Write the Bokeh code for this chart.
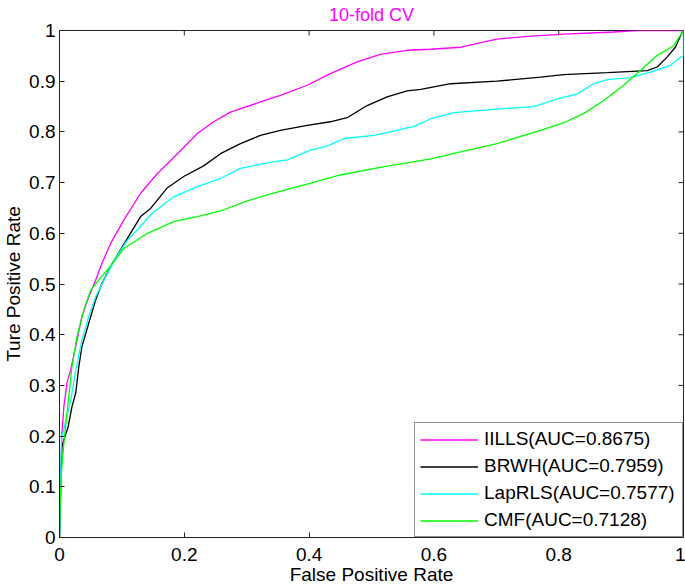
import math
from bokeh.plotting import figure
from bokeh.models import Range1d, FixedTicker, Legend, LegendItem
from bokeh.embed import file_html
from bokeh.resources import INLINE

# ---------------- data ----------------
iills_x = [0, 0.002, 0.004, 0.007, 0.012, 0.018, 0.026, 0.036, 0.047, 0.058, 0.068, 0.082, 0.103,
           0.130, 0.157, 0.189, 0.221, 0.247, 0.274, 0.322, 0.354, 0.397, 0.434, 0.477, 0.514,
           0.557, 0.595, 0.643, 0.701, 0.755, 0.808, 0.888, 0.926, 1.0]
iills_y = [0, 0.12, 0.207, 0.258, 0.305, 0.331, 0.377, 0.436, 0.475, 0.508, 0.541, 0.580, 0.626,
           0.679, 0.718, 0.757, 0.797, 0.820, 0.839, 0.859, 0.872, 0.892, 0.915, 0.938, 0.953,
           0.961, 0.963, 0.967, 0.983, 0.989, 0.993, 0.997, 1.0, 1.0]

brwh_x = [0, 0.002, 0.004, 0.009, 0.014, 0.020, 0.026, 0.031, 0.036, 0.047, 0.058, 0.068, 0.082,
          0.103, 0.130, 0.146, 0.173, 0.199, 0.231, 0.258, 0.290, 0.322, 0.354, 0.397, 0.434,
          0.461, 0.493, 0.525, 0.557, 0.579, 0.627, 0.701, 0.771, 0.808, 0.878, 0.942, 0.958,
          0.974, 0.987, 0.998, 1.0]
brwh_y = [0, 0.10, 0.18, 0.20, 0.219, 0.258, 0.285, 0.337, 0.377, 0.423, 0.469, 0.501, 0.535,
          0.578, 0.633, 0.649, 0.690, 0.712, 0.733, 0.757, 0.777, 0.793, 0.803, 0.813, 0.820,
          0.828, 0.852, 0.869, 0.881, 0.884, 0.895, 0.900, 0.908, 0.913, 0.917, 0.921, 0.928,
          0.948, 0.967, 0.997, 1.0]

laprls_x = [0, 0.002, 0.003, 0.010, 0.018, 0.026, 0.036, 0.047, 0.058, 0.074, 0.090, 0.108,
            0.127, 0.149, 0.183, 0.221, 0.258, 0.290, 0.333, 0.365, 0.402, 0.429, 0.456, 0.504,
            0.541, 0.568, 0.595, 0.632, 0.701, 0.760, 0.798, 0.830, 0.856, 0.878, 0.915, 0.947,
            0.979, 0.996, 1.0, 1.0]
laprls_y = [0, 0.12, 0.193, 0.23, 0.27, 0.33, 0.39, 0.436, 0.475, 0.514, 0.551, 0.585,
            0.610, 0.640, 0.672, 0.692, 0.708, 0.728, 0.739, 0.745, 0.764, 0.772, 0.787, 0.793,
            0.803, 0.811, 0.826, 0.838, 0.845, 0.850, 0.865, 0.875, 0.895, 0.903, 0.907, 0.918,
            0.931, 0.948, 0.95, 1.0]

cmf_x = [0, 0.001, 0.003, 0.007, 0.012, 0.020, 0.028, 0.039, 0.050, 0.063, 0.079, 0.103, 0.141,
         0.183, 0.221, 0.258, 0.301, 0.343, 0.397, 0.450, 0.514, 0.557, 0.595, 0.648, 0.701,
         0.755, 0.808, 0.840, 0.872, 0.904, 0.931, 0.958, 0.984, 1.0]
cmf_y = [0, 0.062, 0.127, 0.186, 0.245, 0.337, 0.396, 0.449, 0.488, 0.508, 0.531, 0.570, 0.600,
         0.623, 0.633, 0.644, 0.664, 0.679, 0.697, 0.715, 0.730, 0.739, 0.747, 0.762, 0.777,
         0.797, 0.818, 0.836, 0.862, 0.892, 0.921, 0.951, 0.970, 1.0]

series_names = ["IILLS(AUC=0.8675)", "BRWH(AUC=0.7959)", "LapRLS(AUC=0.7577)", "CMF(AUC=0.7128)"]
series_colors = ["#ff00ff", "#000000", "#00ffff", "#00ff00"]

x_ticks = [0, 0.2, 0.4, 0.6, 0.8, 1]
x_tick_labels = ["0", "0.2", "0.4", "0.6", "0.8", "1"]
y_ticks = [0, 0.1, 0.2, 0.3, 0.4, 0.5, 0.6, 0.7, 0.8, 0.9, 1]
y_tick_labels = ["0", "0.1", "0.2", "0.3", "0.4", "0.5", "0.6", "0.7", "0.8", "0.9", "1"]

title_text = "10-fold CV"
x_label = "False Positive Rate"
y_label = "Ture Positive Rate"

X0, X1 = 0, 1
Y0, Y1 = 0, 1

# ---------------- figure ----------------
FONT = "Liberation Sans"
FS = "19px"
AX = "#222222"

p = figure(width=685, height=587, output_backend="svg", toolbar_location=None,
           x_range=Range1d(X0, X1), y_range=Range1d(Y0, Y1),
           min_border_left=59, min_border_right=2, min_border_top=30, min_border_bottom=49,
           title=title_text)
p.background_fill_color = "white"
p.border_fill_color = "white"
p.outline_line_color = AX
p.xgrid.visible = False
p.ygrid.visible = False

p.title.align = "center"
p.title.vertical_align = "top"
p.title.text_color = "#ff00ff"
p.title.text_font = FONT
p.title.text_font_size = "18px"
p.title.text_font_style = "normal"
p.title.standoff = 8
p.title.offset = 0


def style_axis(ax, ticks, labels):
    ax.ticker = FixedTicker(ticks=ticks)
    ax.major_label_overrides = {t: l for t, l in zip(ticks, labels)}
    ax.axis_line_color = AX
    ax.major_tick_line_color = AX
    ax.major_tick_in = 5
    ax.major_tick_out = 0
    ax.minor_tick_line_color = None
    ax.major_label_text_font = FONT
    ax.major_label_text_color = "black"
    ax.major_label_text_font_size = FS
    ax.axis_label_text_font = FONT
    ax.axis_label_text_font_size = FS
    ax.axis_label_text_font_style = "normal"
    ax.axis_label_text_color = "black"


xa = p.xaxis[0]
ya = p.yaxis[0]
style_axis(xa, x_ticks, x_tick_labels)
style_axis(ya, y_ticks, y_tick_labels)
xa.axis_label = x_label
ya.axis_label = y_label
xa.major_label_standoff = 10
xa.axis_label_standoff = 0
ya.major_label_standoff = 4
ya.axis_label_standoff = 2

# inward ticks on the top and right edges of the box (MATLAB style)
p.scatter(x_ticks, [Y1] * len(x_ticks), marker="dash", size=10, angle=math.pi / 2,
          line_color=AX, line_width=1)
p.scatter([X1] * len(y_ticks), y_ticks, marker="dash", size=10,
          line_color=AX, line_width=1)

xs = [iills_x, brwh_x, laprls_x, cmf_x]
ys = [iills_y, brwh_y, laprls_y, cmf_y]
items = []
for x, y, name, c in zip(xs, ys, series_names, series_colors):
    r = p.line(x, y, line_color=c, line_width=1.3)
    items.append(LegendItem(label=name, renderers=[r]))

legend = Legend(items=items, location="bottom_right")
legend.margin = 0
legend.padding = 5
legend.spacing = 5
legend.glyph_width = 58
legend.glyph_height = 21
legend.label_height = 21
legend.label_width = 193
legend.label_standoff = 6
legend.border_line_color = AX
legend.border_line_width = 1
legend.background_fill_color = "white"
legend.background_fill_alpha = 1
legend.label_text_font = FONT
legend.label_text_font_size = FS
legend.label_text_color = "black"
p.add_layout(legend, "center")

open("out.html", "w").write(file_html(p, INLINE))
